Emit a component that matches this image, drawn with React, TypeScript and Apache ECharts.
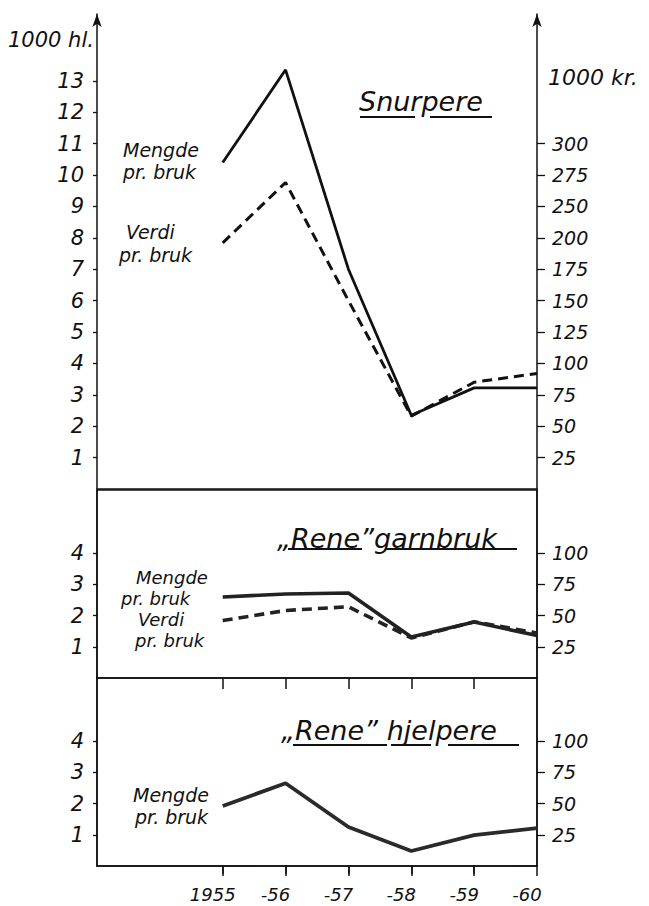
import React, { useEffect, useRef } from "react";
import * as echarts from "echarts";

const years = [1955, 1956, 1957, 1958, 1959, 1960];
const yearLabels = ["1955", "-56", "-57", "-58", "-59", "-60"];

// Snurpere
const snurpereMengde = [10.4, 13.35, 7.0, 2.35, 3.22, 3.22]; // 1000 hl
const snurpereVerdi = [196, 244, 150, 58, 85, 92]; // 1000 kr (plotted scale)
// "Rene" garnbruk
const garnMengde = [2.59, 2.69, 2.72, 1.31, 1.79, 1.36];
const garnVerdi = [46, 54, 57, 32, 45, 36];
// "Rene" hjelpere
const hjelpMengde = [1.92, 2.65, 1.25, 0.48, 0.99, 1.21];

const topLeftTicks = [1, 2, 3, 4, 5, 6, 7, 8, 9, 10, 11, 12, 13];
const topRightTicks = [25, 50, 75, 100, 125, 150, 175, 200, 225, 250, 275];
// the original right-hand scale skips 225: labels above 200 read 25 higher
const topRightLabel = (v: number) => String(v > 200 ? v + 25 : v);
const smallLeftTicks = [1, 2, 3, 4];
const smallRightTicks = [25, 50, 75, 100];

const FONT = "DejaVu Sans";
const INK = "#111";

export default function App() {
  const ref = useRef<HTMLDivElement>(null);
  useEffect(() => {
    if (!ref.current) return;
    const chart = echarts.init(ref.current, undefined, { renderer: "svg" });
    const topMax = 475 / 31.4;
    const smallMax = 188 / 31.25;
    const pairs = (arr: number[]) => years.map((y, i) => [y, arr[i]]);
    const lbl = (size: number) => ({
      fontFamily: FONT,
      fontStyle: "italic" as const,
      fontSize: size,
      color: INK,
    });
    const axisLine = (arrow: boolean) => ({
      show: true,
      lineStyle: { color: INK, width: 1.5 },
      symbol: arrow ? ["none", "arrow"] : ["none", "none"],
      symbolSize: [7, 13],
    });
    const yLeft = (grid: number, max: number, ticks: number[], size: number, arrow: boolean) => ({
      type: "value",
      gridIndex: grid,
      position: "left",
      min: 0,
      max,
      splitLine: { show: false },
      axisLine: axisLine(arrow),
      axisTick: { show: true, length: 4, lineStyle: { color: INK, width: 1.3 }, customValues: ticks },
      axisLabel: { ...lbl(size), margin: 13, customValues: ticks },
    });
    const yRight = (grid: number, max: number, ticks: number[], size: number, arrow: boolean, fmt?: (v: number) => string) => ({
      type: "value",
      gridIndex: grid,
      position: "right",
      min: 0,
      max,
      splitLine: { show: false },
      axisLine: axisLine(arrow),
      axisTick: { show: true, length: 8, lineStyle: { color: INK, width: 1.3 }, customValues: ticks },
      axisLabel: {
        ...lbl(size),
        margin: 15,
        customValues: ticks,
        formatter: fmt ? (v: number) => fmt(v) : (v: number) => String(v),
      },
    });
    const text = (x: number, y: number, t: string, size: number) => ({
      type: "text",
      x,
      y,
      style: {
        text: t,
        fontFamily: FONT,
        fontStyle: "italic",
        fontSize: size,
        fill: INK,
        textAlign: "left",
        textVerticalAlign: "middle",
      },
    });
    const uline = (x1: number, x2: number, y: number) => ({
      type: "line",
      shape: { x1, y1: y, x2, y2: y },
      style: { stroke: INK, lineWidth: 2 },
    });

    chart.setOption({
      animation: false,
      backgroundColor: "#fff",
      grid: [
        { left: 97, right: 112, top: 14, height: 475, show: false },
        { left: 97, right: 112, top: 490, height: 188, show: true, borderColor: INK, borderWidth: 1.5 },
        { left: 97, right: 112, top: 678, height: 188, show: true, borderColor: INK, borderWidth: 1.5 },
      ],
      xAxis: [
        {
          type: "value", gridIndex: 0, min: 1953, max: 1960, position: "bottom",
          splitLine: { show: false }, axisLine: axisLine(false),
          axisTick: { show: false }, axisLabel: { show: false },
        },
        {
          type: "value", gridIndex: 1, min: 1953, max: 1960, position: "top",
          splitLine: { show: false }, axisLine: { show: false },
          axisTick: { show: true, inside: true, length: 11, lineStyle: { color: INK, width: 1.5 }, customValues: years.slice(0, 5) },
          axisLabel: { show: false },
        },
        {
          type: "value", gridIndex: 2, min: 1953, max: 1960, position: "top",
          splitLine: { show: false }, axisLine: { show: false },
          axisTick: { show: true, inside: true, length: 8, lineStyle: { color: INK, width: 1.5 }, customValues: years.slice(0, 5) },
          axisLabel: { show: false },
        },
        {
          type: "value", gridIndex: 2, min: 1953, max: 1960, position: "bottom",
          splitLine: { show: false }, axisLine: axisLine(false),
          axisTick: { show: true, length: 10, lineStyle: { color: INK, width: 1.5 }, customValues: years },
          axisLabel: {
            ...lbl(18),
            margin: 19,
            padding: [0, 20, 0, 0],
            customValues: years,
            formatter: (v: number) => yearLabels[years.indexOf(v)] ?? "",
          },
        },
      ],
      yAxis: [
        yLeft(0, topMax, topLeftTicks, 21, true),
        yRight(0, topMax * 25, topRightTicks, 19, true, topRightLabel),
        yLeft(1, smallMax, smallLeftTicks, 21, false),
        yRight(1, smallMax * 25, smallRightTicks, 19, false),
        yLeft(2, smallMax, smallLeftTicks, 21, false),
        yRight(2, smallMax * 25, smallRightTicks, 19, false),
      ],
      series: [
        {
          name: "Snurpere Mengde", type: "line", xAxisIndex: 0, yAxisIndex: 0,
          data: pairs(snurpereMengde), symbol: "none",
          lineStyle: { color: INK, width: 2.8 },
        },
        {
          name: "Snurpere Verdi", type: "line", xAxisIndex: 0, yAxisIndex: 1,
          data: pairs(snurpereVerdi), symbol: "none",
          lineStyle: { color: INK, width: 3, type: [10, 6] },
        },
        {
          name: "Garnbruk Mengde", type: "line", xAxisIndex: 1, yAxisIndex: 2,
          data: pairs(garnMengde), symbol: "none",
          lineStyle: { color: "#222", width: 3.6 },
        },
        {
          name: "Garnbruk Verdi", type: "line", xAxisIndex: 1, yAxisIndex: 3,
          data: pairs(garnVerdi), symbol: "none",
          lineStyle: { color: "#222", width: 3.6, type: [10, 6] },
        },
        {
          name: "Hjelpere Mengde", type: "line", xAxisIndex: 2, yAxisIndex: 4,
          data: pairs(hjelpMengde), symbol: "none",
          lineStyle: { color: "#2a2a2a", width: 3.8 },
        },
      ],
      graphic: [
        text(8, 40, "1000 hl.", 21),
        text(548, 77, "1000 kr.", 22),
        text(359, 101, "Snurpere", 27),
        uline(360, 415, 117),
        uline(430, 492, 117),
        text(123, 150, "Mengde", 19),
        text(123, 172, "pr. bruk", 19),
        text(126, 232, "Verdi", 19),
        text(119, 255, "pr. bruk", 19),
        text(277, 538, "\u201ERene\u201Dgarnbruk", 27),
        uline(288, 362, 549),
        uline(385, 517, 549),
        text(136, 577, "Mengde", 18),
        text(121, 598, "pr. bruk", 18),
        text(138, 619, "Verdi", 18),
        text(135, 640, "pr. bruk", 18),
        text(281, 730, "\u201ERene\u201D hjelpere", 27),
        uline(293, 387, 745),
        uline(391, 431, 745),
        uline(448, 519, 745),
        text(133, 795, "Mengde", 19),
        text(135, 817, "pr. bruk", 19),
      ],
    });
    return () => chart.dispose();
  }, []);
  return (
    <div
      ref={ref}
      style={{ position: "fixed", left: 0, top: 0, width: 649, height: 906, background: "#fff" }}
    />
  );
}
